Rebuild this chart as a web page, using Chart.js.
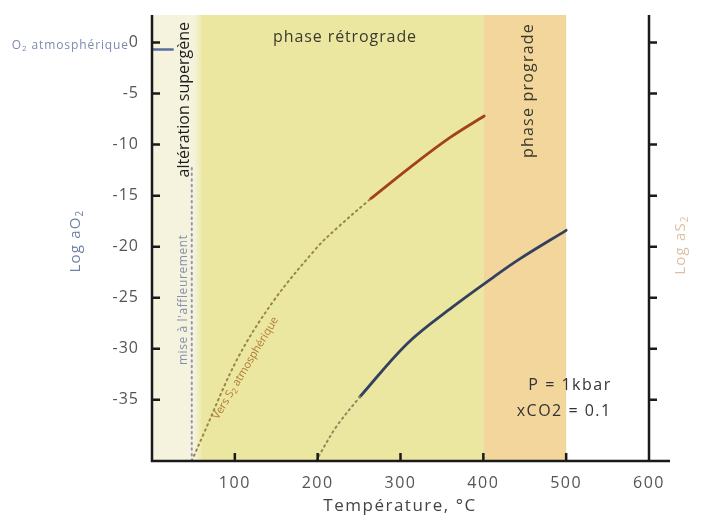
<!DOCTYPE html>
<html><head><meta charset="utf-8">
<script src="https://cdn.jsdelivr.net/npm/chart.js@4/dist/chart.umd.min.js"></script>
<style>html,body{margin:0;padding:0;background:#fff}#wrap{width:702px;height:525px;position:relative}</style>
</head><body><div id="wrap"><canvas id="c"></canvas></div>
<script>
// ---- data ----
const xTicks = [100, 200, 300, 400, 500, 600];
const yTicks = [0, -5, -10, -15, -20, -25, -30, -35];
const bandStart = [0, 60, 400];
const bandEnd = [60, 400, 500];
const redT = [264, 312, 360, 401];
const redV = [-15.3, -12.2, -9.3, -7.2];
const blueT = [251, 308, 363, 412, 444, 500];
const blueV = [-34.7, -29.5, -25.9, -23.0, -21.2, -18.4];
const blueDotT = [198, 222, 251];
const blueDotV = [-41, -37.7, -34.7];
const s2DotT = [48, 62, 103, 146, 199, 223, 264];
const s2DotV = [-41, -38.4, -31.0, -25.4, -20.1, -18.2, -15.3];
const vertDotT = [48, 48];
const vertDotV = [-41, -12];
const o2AtmT = [0, 25];
const o2AtmV = [-0.68, -0.68];

const FONT = '"Open Sans", "Liberation Sans", sans-serif';
const pts = (xs, ys) => xs.map((x, i) => ({x, y: ys[i]}));
const bandColors = ['#f5f3de', '#ebe7a1', '#f2d69c'];

// draw (possibly subscripted) text; parts: [text, size, dy]
function drawParts(ctx, parts, cx, cy, opts) {
  ctx.save();
  ctx.translate(cx, cy);
  ctx.rotate((opts.rot || 0) * Math.PI / 180);
  ctx.fillStyle = opts.color;
  ctx.textBaseline = 'middle';
  ctx.textAlign = 'left';
  const ls = opts.ls || 0;
  ctx.letterSpacing = ls + 'px';
  let w = 0;
  parts.forEach(p => { ctx.font = p[1] + 'px ' + FONT; w += ctx.measureText(p[0]).width; });
  let sx = opts.align === 'right' ? -w : (opts.align === 'left' ? 0 : -w / 2);
  parts.forEach(p => {
    ctx.font = p[1] + 'px ' + FONT;
    ctx.fillText(p[0], sx, p[2] || 0);
    sx += ctx.measureText(p[0]).width;
  });
  ctx.restore();
}

const drawPlugin = {
  id: 'custom',
  beforeDatasetsDraw(chart) {
    const {ctx, chartArea: a, scales: {x, y}} = chart;
    ctx.save();
    for (let i = 0; i < bandStart.length; i++) {
      const x0 = x.getPixelForValue(bandStart[i]);
      const x1 = x.getPixelForValue(bandEnd[i]);
      ctx.fillStyle = bandColors[i];
      ctx.fillRect(x0, a.top, x1 - x0, a.bottom - a.top);
    }
    const xe = x.getPixelForValue(bandStart[1]);
    const g = ctx.createLinearGradient(xe - 8, 0, xe + 2, 0);
    g.addColorStop(0, 'rgba(235,231,161,0)');
    g.addColorStop(1, 'rgba(235,231,161,1)');
    ctx.fillStyle = g;
    ctx.fillRect(xe - 8, a.top, 10, a.bottom - a.top);

    const P = (tx, ty) => [x.getPixelForValue(tx), y.getPixelForValue(ty)];
    let p;
    p = P(233, 0.55); drawParts(ctx, [['phase rétrograde', 16]], p[0], p[1], {color: '#3b3a2c', ls: 0.9});
    p = P(454, -4.7); drawParts(ctx, [['phase prograde', 16]], p[0], p[1], {color: '#3b3a2c', ls: 1.2, rot: -90});
    p = P(39, -5.6); drawParts(ctx, [['altération supergène', 16]], p[0], p[1], {color: '#1e1e1e', ls: 0, rot: -90});
    p = P(38.6, -25.2); drawParts(ctx, [['mise à l\'affleurement', 12]], p[0], p[1], {color: '#8390ad', ls: 0.6, rot: -90});
    p = P(555, -33.6); drawParts(ctx, [['P = 1kbar', 16]], p[0], p[1], {color: '#333', ls: 1.5, align: 'right'});
    p = P(555, -36.1); drawParts(ctx, [['xCO2 = 0.1', 16]], p[0], p[1], {color: '#333', ls: 1.5, align: 'right'});
    p = P(113, -31.9); drawParts(ctx, [['Vers S', 11], ['2', 8, 3], [' atmosphérique', 11]], p[0], p[1], {color: '#b07a35', ls: 0, rot: -59});
    ctx.restore();
  },
  afterDatasetsDraw(chart) {
    const {ctx, chartArea: a, scales: {x, y}} = chart;
    ctx.save();
    ctx.strokeStyle = '#1a1a1a';
    ctx.lineWidth = 2.5;
    const xl = x.getPixelForValue(0), xr = x.getPixelForValue(600);
    ctx.beginPath();
    ctx.moveTo(xl, a.top); ctx.lineTo(xl, a.bottom + 1.2);
    ctx.moveTo(xl - 1.2, a.bottom); ctx.lineTo(xr + 21, a.bottom);
    ctx.moveTo(xr, a.top); ctx.lineTo(xr, a.bottom);
    ctx.stroke();
    ctx.beginPath();
    yTicks.forEach(v => {
      const py = y.getPixelForValue(v);
      ctx.moveTo(xl, py); ctx.lineTo(xl + 8, py);
      ctx.moveTo(xr, py); ctx.lineTo(xr + 8, py);
    });
    xTicks.forEach(v => {
      if (v === 600) return;
      const px = x.getPixelForValue(v);
      ctx.moveTo(px, a.bottom); ctx.lineTo(px, a.bottom - 8);
    });
    ctx.stroke();
    yTicks.forEach(v => drawParts(ctx, [[String(v), 16]], 139, y.getPixelForValue(v), {color: '#555', ls: 1, align: 'right'}));
    xTicks.forEach(v => drawParts(ctx, [[String(v), 16]], x.getPixelForValue(v), 483, {color: '#555', ls: 1.5}));
    drawParts(ctx, [['Température, °C', 17]], 400, 506, {color: '#444', ls: 1.5});
    drawParts(ctx, [['Log aO', 15], ['2', 10, 4]], 76, 241, {color: '#6f80a6', ls: 1.2, rot: -90});
    drawParts(ctx, [['Log aS', 15], ['2', 10, 4]], 681, 245, {color: '#dcc0a0', ls: 1.2, rot: -90});
    drawParts(ctx, [['O', 12], ['2', 8, 3], [' atmosphérique', 12]], 129, y.getPixelForValue(-0.3), {color: '#7b8bb0', ls: 0.9, align: 'right'});
    ctx.restore();
  }
};

const dotted = (data, color) => ({
  data, borderColor: color, borderWidth: 2, borderDash: [1.5, 4], borderCapStyle: 'round',
  pointRadius: 0, showLine: true, tension: 0.35, fill: false
});
const solid = (data, color, w) => ({
  data, borderColor: color, borderWidth: w, pointRadius: 0, showLine: true,
  tension: 0.35, fill: false, borderCapStyle: 'round'
});

new Chart(document.getElementById('c'), {
  type: 'scatter',
  data: {
    datasets: [
      dotted(pts(vertDotT, vertDotV), '#8f95b3'),
      dotted(pts(s2DotT, s2DotV), '#9a8446'),
      dotted(pts(blueDotT, blueDotV), '#8a8a5a'),
      solid(pts(redT, redV), '#a3401e', 2.8),
      solid(pts(blueT, blueV), '#33415f', 2.8),
      solid(pts(o2AtmT, o2AtmV), '#5c6f9c', 2.5)
    ]
  },
  options: {
    responsive: true, maintainAspectRatio: false, animation: false,
    layout: {padding: {left: 152, right: 53, top: 15, bottom: 64}},
    plugins: {legend: {display: false}, tooltip: {enabled: false}},
    scales: {
      x: {type: 'linear', min: 0, max: 600, display: false},
      y: {type: 'linear', min: -41, max: 2.7, display: false}
    }
  },
  plugins: [drawPlugin]
});
</script></body></html>
